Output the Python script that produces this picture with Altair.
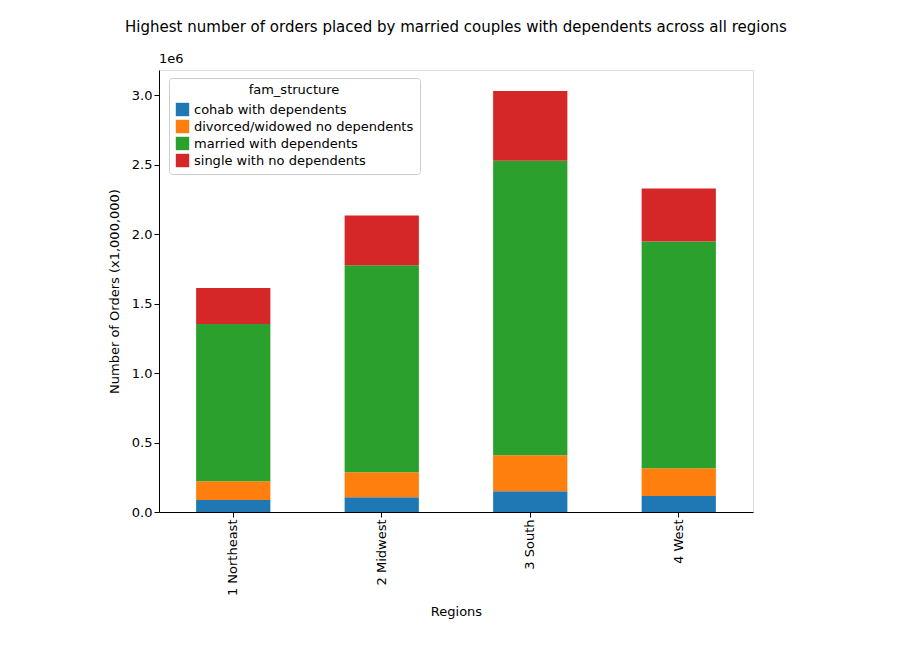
import altair as alt
import pandas as pd

regions = ["1 Northeast", "2 Midwest", "3 South", "4 West"]
structures = ["cohab with dependents", "divorced/widowed no dependents",
              "married with dependents", "single with no dependents"]
colors = ["#1f77b4", "#ff7f0e", "#2ca02c", "#d62728"]
cohab = [0.086, 0.107, 0.150, 0.115]
divorced = [0.136, 0.179, 0.258, 0.200]
married = [1.131, 1.490, 2.119, 1.632]
single = [0.258, 0.358, 0.502, 0.380]

rows = []
for i, r in enumerate(regions):
    for k, (s, vals) in enumerate(zip(structures, [cohab, divorced, married, single])):
        rows.append({"region": r, "fam_structure": s, "orders": vals[i], "ord": k})
df = pd.DataFrame(rows)

bars = alt.Chart(df).mark_bar().encode(
    x=alt.X("region:N", sort=regions, title="Regions",
            scale=alt.Scale(paddingInner=0.5, paddingOuter=0.25),
            axis=alt.Axis(labelAngle=-90, labelFontSize=13, titleFontSize=13,
                          labelColor="black", titleColor="black", domainColor="black",
                          tickColor="black", titleFontWeight="normal", titlePadding=10)),
    y=alt.Y("orders:Q", title="Number of Orders (x1,000,000)",
            scale=alt.Scale(domain=[0, 3.18], nice=False),
            axis=alt.Axis(values=[0, 0.5, 1.0, 1.5, 2.0, 2.5, 3.0], format=".1f", grid=False,
                          labelFontSize=13, titleFontSize=13, labelColor="black",
                          titleColor="black", domainColor="black", tickColor="black",
                          titleFontWeight="normal", titlePadding=10)),
    color=alt.Color("fam_structure:N", scale=alt.Scale(domain=structures, range=colors),
                    legend=alt.Legend(orient="none", legendX=10, legendY=8,
                                      title="fam_structure", titleFontWeight="normal",
                                      titleFontSize=13, labelFontSize=13, titleAnchor="middle",
                                      symbolType="square", symbolSize=180, labelLimit=400,
                                      fillColor="white", strokeColor="#cccccc",
                                      padding=6, cornerRadius=3, labelColor="black",
                                      titleColor="black")),
    order=alt.Order("ord:Q"),
)

exp = alt.Chart(pd.DataFrame({"t": ["1e6"]})).mark_text(
    align="left", baseline="bottom", fontSize=13, color="black", dy=-4
).encode(text="t:N", x=alt.value(0), y=alt.value(0))

chart = (bars + exp).properties(
    width=594, height=442,
    padding={"left": 100, "top": 12, "right": 5, "bottom": 5},
    title=alt.TitleParams("Highest number of orders placed by married couples with dependents across all regions",
                          fontSize=15, fontWeight="normal", color="black", offset=18,
                          anchor="middle"),
).configure_view(stroke="#000000", strokeWidth=1, strokeOpacity=1).configure(font="DejaVu Sans")

chart.save("out.html", embed_options={"renderer": "svg", "actions": False})
